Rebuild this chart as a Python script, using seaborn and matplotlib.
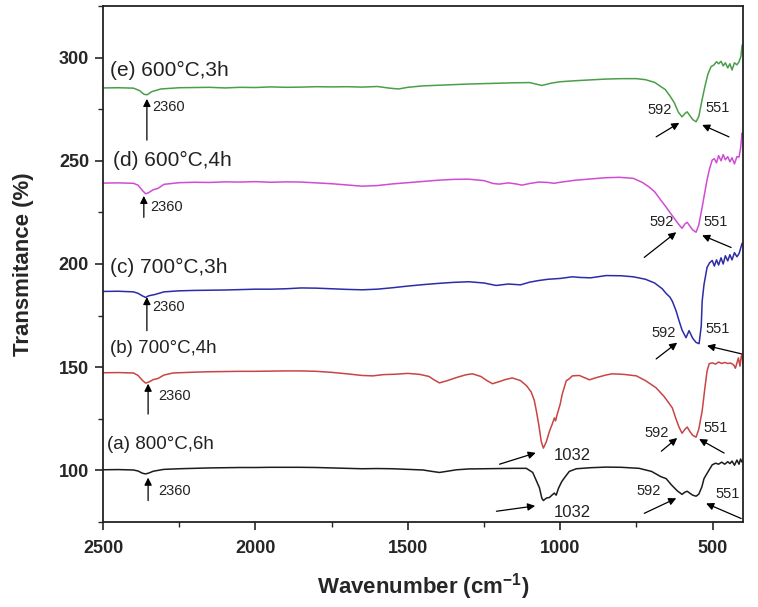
import numpy as np
import pandas as pd
import matplotlib
matplotlib.use("Agg")
import matplotlib.pyplot as plt
from matplotlib.ticker import MultipleLocator
import seaborn as sns

# ---------------- data ----------------
wn_e = [2500, 2450, 2400, 2380, 2365, 2355, 2340, 2310, 2250, 2200, 2150, 2100, 2050, 2000,
        1950, 1900, 1850, 1800, 1750, 1700, 1650, 1600, 1560, 1530, 1500, 1450, 1400, 1350,
        1300, 1250, 1200, 1150, 1100, 1060, 1030, 1000, 950, 900, 850, 800, 750, 720, 690,
        670, 655, 640, 625, 612, 600, 590, 583, 575, 565, 554, 545, 535, 525, 515, 505, 495,
        487, 480, 472, 465, 458, 450, 443, 436, 428, 420, 413, 407, 403, 400]
tr_e = [285.3, 285.4, 285.2, 284.0, 282.2, 282.0, 283.5, 284.8, 285.4, 285.5, 285.6, 285.3,
        285.6, 285.5, 285.8, 285.6, 285.7, 285.9, 285.8, 285.9, 285.7, 286.0, 285.2, 284.8,
        285.6, 286.3, 286.6, 286.9, 287.2, 287.4, 287.6, 287.8, 287.9, 286.5, 287.6, 288.3,
        288.8, 289.2, 289.6, 289.8, 289.8, 289.3, 288.0, 286.0, 284.5, 281.5, 278.0, 273.5,
        271.3, 273.0, 273.7, 272.0, 270.0, 268.9, 271.5, 279.0, 286.0, 292.0, 295.6, 296.5,
        298.0, 297.0, 298.2, 296.0, 297.5, 295.0, 297.0, 294.0, 297.5, 296.5, 298.0, 300.5,
        306.0, 306.5]

wn_d = [2500, 2450, 2400, 2385, 2370, 2360, 2350, 2335, 2320, 2300, 2250, 2200, 2150, 2100,
        2050, 2000, 1950, 1900, 1850, 1800, 1750, 1700, 1650, 1600, 1550, 1500, 1450, 1400,
        1350, 1300, 1250, 1220, 1200, 1170, 1145, 1125, 1100, 1070, 1040, 1020, 1000, 950,
        900, 850, 806, 760, 730, 708, 690, 670, 652, 635, 620, 610, 600, 590, 583, 575, 565,
        554, 545, 534, 525, 518, 510, 501, 494, 487, 480, 472, 465, 458, 450, 443, 436, 428,
        420, 413, 408, 403, 400]
tr_d = [239.2, 239.3, 239.1, 238.2, 235.5, 234.0, 234.6, 236.0, 236.6, 238.6, 239.4, 239.6,
        239.5, 239.8, 239.7, 239.9, 239.6, 239.8, 239.7, 239.3, 238.9, 238.3, 237.7, 238.0,
        238.8, 239.4, 240.0, 240.6, 241.0, 241.1, 240.4, 239.0, 238.7, 239.3, 238.8, 238.2,
        239.0, 239.7, 239.5, 239.1, 239.6, 240.6, 241.2, 241.8, 242.0, 241.5, 239.5, 237.3,
        235.0, 231.0, 227.5, 224.0, 221.0, 219.0, 217.3, 219.5, 220.2, 218.5, 216.5, 215.4,
        219.0, 227.5, 235.0, 240.7, 246.0, 250.4, 251.0, 249.0, 252.5, 250.0, 253.0, 250.5,
        252.0, 249.5, 251.5, 248.5, 252.0, 251.8, 256.0, 263.5, 261.0]

wn_c = [2500, 2450, 2400, 2385, 2370, 2360, 2350, 2330, 2300, 2250, 2200, 2150, 2100, 2050,
        2000, 1950, 1900, 1850, 1800, 1750, 1700, 1650, 1600, 1550, 1500, 1450, 1400, 1350,
        1300, 1250, 1210, 1170, 1130, 1100, 1070, 1040, 1000, 960, 937, 900, 849, 800, 760,
        720, 690, 665, 652, 640, 632, 620, 610, 600, 587, 577, 565, 554, 544, 537, 534, 528,
        518, 510, 501, 494, 487, 480, 472, 465, 458, 450, 443, 436, 428, 420, 413, 408, 403,
        400]
tr_c = [186.7, 186.8, 186.5, 185.8, 184.5, 183.8, 184.6, 185.2, 186.5, 187.0, 187.2, 187.3,
        187.4, 187.6, 187.8, 187.8, 188.0, 188.4, 188.3, 188.0, 187.7, 187.5, 187.8, 188.5,
        189.3, 190.0, 190.6, 191.1, 191.4, 190.8, 189.6, 190.3, 189.9, 191.2, 192.0, 192.6,
        193.0, 193.8, 193.5, 193.3, 194.4, 194.3, 193.8, 192.6, 190.8, 188.0, 185.7, 184.0,
        182.0, 177.5, 172.6, 168.0, 164.3, 167.7, 164.0, 162.0, 161.4, 170.0, 182.0, 190.0,
        198.3, 200.5, 201.7, 199.0, 202.0, 199.5, 203.0, 200.0, 204.0, 201.5, 204.5, 202.0,
        205.5, 203.5, 205.0, 207.5, 210.0, 209.0]

wn_b = [2500, 2450, 2400, 2385, 2370, 2360, 2350, 2335, 2320, 2300, 2270, 2200, 2150, 2100,
        2050, 2000, 1950, 1900, 1855, 1800, 1750, 1700, 1650, 1615, 1580, 1540, 1500, 1460,
        1430, 1415, 1396, 1370, 1340, 1310, 1288, 1260, 1240, 1222, 1200, 1180, 1157, 1130,
        1110, 1095, 1085, 1078, 1070, 1062, 1055, 1045, 1035, 1027, 1019, 1015, 1010, 1000,
        993, 980, 970, 960, 937, 904, 880, 850, 829, 790, 750, 720, 685, 660, 645, 632, 620,
        610, 600, 590, 583, 575, 565, 554, 545, 534, 525, 518, 511, 501, 490, 480, 470, 460,
        450, 440, 430, 425, 420, 415, 410, 406, 403, 400]
tr_b = [147.3, 147.4, 147.2, 146.0, 143.5, 142.3, 142.8, 144.0, 144.5, 146.2, 147.2, 147.6,
        147.8, 147.9, 148.0, 148.0, 148.1, 148.2, 148.2, 148.0, 147.5, 146.8, 146.0, 145.8,
        146.4, 146.6, 147.0, 146.5, 145.5, 144.0, 142.4, 143.5, 145.0, 146.3, 146.8, 145.5,
        143.5, 142.0, 143.0, 144.0, 144.8, 143.5, 141.0, 138.0, 134.0, 128.8, 122.0, 114.0,
        110.8, 114.0, 119.0, 122.0, 125.4, 124.0, 127.0, 132.0, 137.0, 143.4, 144.4, 145.8,
        146.0, 143.9, 145.0, 146.2, 146.8, 146.5, 145.8, 143.5, 140.0, 136.0, 133.0, 130.3,
        125.0, 121.0, 118.0, 120.0, 121.0, 119.0, 117.0, 116.1, 120.0, 128.8, 140.0, 148.0,
        151.7, 152.1, 151.5, 152.5, 151.8, 152.3, 151.8, 152.0, 151.0, 149.5, 152.0, 154.5,
        150.5, 155.0, 156.5, 151.5]

wn_a = [2500, 2450, 2400, 2385, 2370, 2360, 2350, 2335, 2320, 2300, 2250, 2200, 2150, 2100,
        2050, 2000, 1950, 1900, 1855, 1800, 1750, 1700, 1650, 1600, 1550, 1500, 1450, 1420,
        1396, 1370, 1340, 1300, 1250, 1200, 1150, 1111, 1090, 1078, 1068, 1060, 1055, 1045,
        1035, 1027, 1019, 1013, 1005, 995, 986, 970, 947, 900, 849, 800, 741, 700, 670, 652,
        635, 615, 600, 590, 583, 575, 565, 554, 545, 535, 528, 521, 510, 501, 490, 480, 470,
        460, 450, 443, 436, 428, 420, 413, 408, 403, 400]
tr_a = [100.3, 100.4, 100.2, 99.7, 98.6, 98.3, 98.7, 99.6, 100.0, 100.5, 100.8, 101.0, 101.2,
        101.3, 101.4, 101.4, 101.5, 101.5, 101.5, 101.4, 101.2, 101.0, 100.8, 100.9, 100.8,
        100.5, 100.2, 99.5, 99.0, 99.6, 100.3, 100.7, 100.8, 100.9, 101.0, 101.0, 99.0, 95.0,
        91.6, 86.5, 85.4, 86.6, 86.9, 88.0, 89.0, 88.0, 91.5, 94.5, 96.4, 99.5, 100.8, 101.3,
        101.6, 101.5, 101.0, 99.5, 97.0, 96.0, 93.0, 90.0, 88.4, 89.5, 89.9, 89.0, 88.0, 87.5,
        88.5, 92.0, 96.0, 97.8, 100.5, 102.7, 103.5, 103.0, 104.0, 103.0, 104.2, 103.3, 104.5,
        102.5, 105.0, 103.0, 105.5, 104.0, 104.5]

series_names = ["(a) 800°C,6h", "(b) 700°C,4h", "(c) 700°C,3h", "(d) 600°C,4h", "(e) 600°C,3h"]
series_colors = ["#1c1c1c", "#c94444", "#2c2ca8", "#d04cd4", "#4a9e4a"]
peak_labels = ["2360", "1032", "592", "551"]

# ---------------- build long table ----------------
frames = []
for name, wn, tr in zip(series_names,
                        [wn_a, wn_b, wn_c, wn_d, wn_e],
                        [tr_a, tr_b, tr_c, tr_d, tr_e]):
    frames.append(pd.DataFrame({"wn": wn, "tr": tr, "sample": name,
                                "order": np.arange(len(wn))}))
df = pd.concat(frames, ignore_index=True)

sns.set_theme(style="ticks")
plt.rcParams["font.family"] = ["Liberation Sans", "DejaVu Sans"]
plt.rcParams["mathtext.fontset"] = "custom"
plt.rcParams["mathtext.rm"] = "Liberation Sans:bold"
plt.rcParams["mathtext.bf"] = "Liberation Sans:bold"
plt.rcParams["mathtext.default"] = "bf"

fig = plt.figure(figsize=(7.58, 6.07), dpi=100)
ax = fig.add_axes([103 / 758, 1 - 522 / 607, (743 - 103) / 758, (522 - 6) / 607])

sns.lineplot(data=df, x="wn", y="tr", hue="sample", units="sample", estimator=None,
             sort=False, palette=dict(zip(series_names, series_colors)),
             linewidth=1.1, legend=False, ax=ax)

ax.set_xlim(2500, 400)
ax.set_ylim(75, 325)
ax.xaxis.set_major_locator(MultipleLocator(500))
ax.xaxis.set_minor_locator(MultipleLocator(250))
ax.yaxis.set_major_locator(MultipleLocator(50))
ax.yaxis.set_minor_locator(MultipleLocator(25))
ax.tick_params(which="major", direction="out", length=6, width=1.2,
               labelsize=13, pad=4)
ax.tick_params(axis="x", which="major", pad=7)
ax.tick_params(which="minor", direction="out", length=3.5, width=1.0)
for lab in ax.get_xticklabels() + ax.get_yticklabels():
    lab.set_fontweight("bold")
for sp in ax.spines.values():
    sp.set_linewidth(1.3)
    sp.set_color("#222222")

ax.set_xlabel(r"Wavenumber (cm$^{-1}$)", fontsize=16, fontweight="bold", labelpad=10)
ax.set_ylabel("Transmitance (%)", fontsize=16, fontweight="bold", labelpad=18)

# curve labels
label_pos = [(2488, 112.5, 13.5), (2477, 159, 13.5), (2477, 198.3, 15),
             (2467, 250.4, 15), (2477, 294, 15)]
for name, (x, y, fs) in zip(series_names, label_pos):
    ax.text(x, y, name, fontsize=fs, ha="left", va="center", color="#222222")

arrow_kw = dict(arrowstyle="-|>", color="black", lw=0.9, mutation_scale=11,
                shrinkA=0, shrinkB=0)

def ann(label, xy, xytext, tpos, fs=10.5, ha="center"):
    ax.annotate("", xy=xy, xytext=xytext, arrowprops=arrow_kw)
    ax.text(tpos[0], tpos[1], label, fontsize=fs, ha=ha, va="center", color="#222222")

# 2360 markers
ann(peak_labels[0], (2356, 280), (2356, 260), (2340, 276), ha="left")
ann(peak_labels[0], (2366, 233), (2366, 222.6), (2345, 227.5), ha="left")
ann(peak_labels[0], (2356, 184), (2356, 167.7), (2340, 179), ha="left")
ann(peak_labels[0], (2352, 142), (2352, 127.3), (2318, 136), ha="left")
ann(peak_labels[0], (2352, 96.5), (2352, 85.4), (2318, 89.8), ha="left")

# 1032 markers
ann(peak_labels[1], (1080, 108.5), (1199, 103), (1022, 107), fs=12, ha="left")
ann(peak_labels[1], (1082, 82.8), (1209, 80.2), (1022, 79.5), fs=12, ha="left")

# 592 / 551 markers
groups = [(274.7, 275.7, (685, 261.6), (609, 268.4), (446, 261.6), (534, 267.4)),
          (220.2, 220.2, (724, 203.2), (619, 215.4), (439, 208), (534, 213.9)),
          (166.7, 168.7, (685, 154), (616, 161.9), (406, 156.5), (518, 160.4)),
          (118.1, 120.5, (668, 109.3), (616, 115.7), (462, 108.4), (544, 115.2)),
          (90.0, 88.4, (724, 79.2), (619, 86.5), (406, 76.7), (521, 84))]
text_x = [(675, 483), (668, 491), (662, 482), (682, 491), (708, 452)]
for (y592, y551, t1, h1, t2, h2), (x592, x551) in zip(groups, text_x):
    ann(peak_labels[2], h1, t1, (x592, y592))
    ann(peak_labels[3], h2, t2, (x551, y551))

fig.savefig("out.png", dpi=100)
